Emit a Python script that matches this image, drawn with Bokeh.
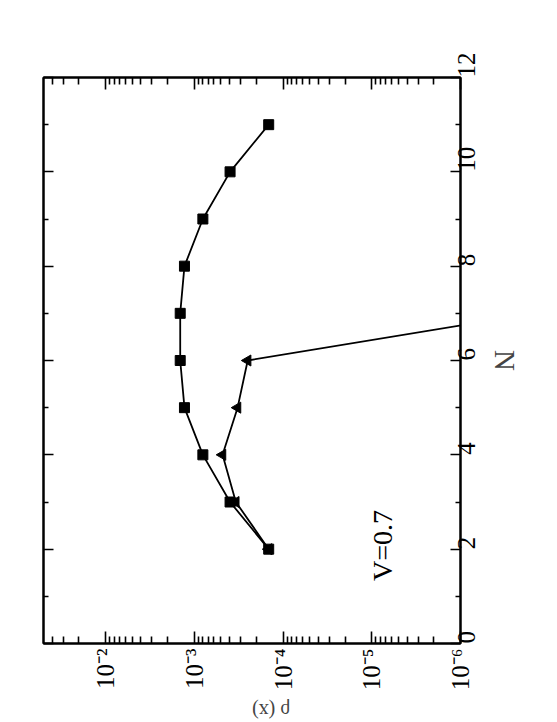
import math
from bokeh.plotting import figure
from bokeh.models import Range1d, FixedTicker, LinearAxis, LogAxis
from bokeh.core.properties import value
from bokeh.embed import file_html
from bokeh.resources import INLINE

# ---- data ----
n_sq = [2, 3, 4, 5, 6, 7, 8, 9, 10, 11]
val_sq = [1.45e-4, 3.95e-4, 8.0e-4, 1.29e-3, 1.44e-3, 1.44e-3, 1.29e-3, 8.0e-4, 3.95e-4, 1.45e-4]
n_tri = [2, 3, 4, 5, 6, 7]
val_tri = [1.45e-4, 3.4e-4, 4.8e-4, 3.25e-4, 2.5e-4, 1.5e-7]

val_ticks = [1e-6, 1e-5, 1e-4, 1e-3, 1e-2]
val_tick_labels = ["10\u207b\u2076", "10\u207b\u2075", "10\u207b\u2074", "10\u207b\u00b3", "10\u207b\u00b2"]
n_ticks = [0, 2, 4, 6, 8, 10, 12]
n_minor = [1, 3, 5, 7, 9, 11]

FONT = "Liberation Serif"

val_minor = [m * 10.0 ** e for e in range(-6, -1) for m in range(2, 10) if m * 10.0 ** e < 0.05]

p = figure(
    x_axis_type="log",
    x_range=Range1d(5e-2, 1e-6),
    y_range=Range1d(0, 12),
    output_backend="svg",
    toolbar_location=None,
    y_axis_location="right",
    frame_width=417, frame_height=566,
    min_border_left=43, min_border_top=77, min_border_right=89, min_border_bottom=71,
    background_fill_color="white", border_fill_color="white",
)
p.grid.visible = False
p.outline_line_color = "black"
p.outline_line_width = 2

xt = FixedTicker(ticks=val_ticks, minor_ticks=val_minor)
yt = FixedTicker(ticks=n_ticks, minor_ticks=n_minor)

def style(ax, ticker, labels=True, major_len=11, minor_len=6):
    ax.ticker = ticker
    ax.axis_line_width = 2
    ax.major_tick_line_width = 1.6
    ax.minor_tick_line_width = 1.6
    ax.major_tick_in = major_len
    ax.major_tick_out = 0
    ax.minor_tick_in = minor_len
    ax.minor_tick_out = 0
    ax.major_label_text_font = FONT
    ax.major_label_text_color = "black"
    if labels:
        ax.major_label_orientation = math.pi / 2
    else:
        ax.major_label_text_alpha = 0
        ax.major_label_text_font_size = "6px"
        ax.major_label_standoff = 0

# bottom (values, log, reversed)
bx = p.xaxis[0]
style(bx, xt, major_len=12, minor_len=7)
bx.major_label_overrides = {t: s for t, s in zip(val_ticks, val_tick_labels)}
bx.major_label_text_font_size = "25px"
bx.major_label_standoff = 5
bx.axis_label = "\u03c1 (x)"
bx.axis_label_text_font = FONT
bx.axis_label_text_font_style = "normal"
bx.axis_label_text_font_size = "20px"
bx.axis_label_standoff = 18
if "axis_label_orientation" in bx.properties():
    bx.axis_label_orientation = math.pi

# right (N)
ry = p.yaxis[0]
style(ry, yt, major_len=10, minor_len=5)
ry.major_label_text_font_size = "25px"
ry.major_label_standoff = 6
ry.axis_label = "N"
ry.axis_label_text_font = FONT
ry.axis_label_text_font_style = "normal"
ry.axis_label_text_font_size = "29px"
ry.axis_label_standoff = 2

# mirrored axes
ta = LogAxis()
style(ta, FixedTicker(ticks=val_ticks, minor_ticks=val_minor), labels=False, major_len=12, minor_len=7)
p.add_layout(ta, "above")
la = LinearAxis()
style(la, FixedTicker(ticks=n_ticks, minor_ticks=n_minor), labels=False, major_len=10, minor_len=5)
p.add_layout(la, "left")

# series
p.line(val_sq, n_sq, line_color="black", line_width=1.8)
p.scatter(val_sq, n_sq, marker="square", size=10, fill_color="black", line_color="black")
p.line(val_tri, n_tri, line_color="black", line_width=1.8)
p.scatter(val_tri, n_tri, marker="triangle", size=11, angle=math.pi / 2,
          fill_color="black", line_color="black")

# annotation text
p.text(x=[7.5e-6], y=[2.08], text=["V=0.7"], angle=math.pi / 2,
       text_font=value(FONT), text_font_size="28px", text_align="center",
       text_baseline="middle", text_color="black")

open("out.html", "w").write(file_html(p, INLINE))
